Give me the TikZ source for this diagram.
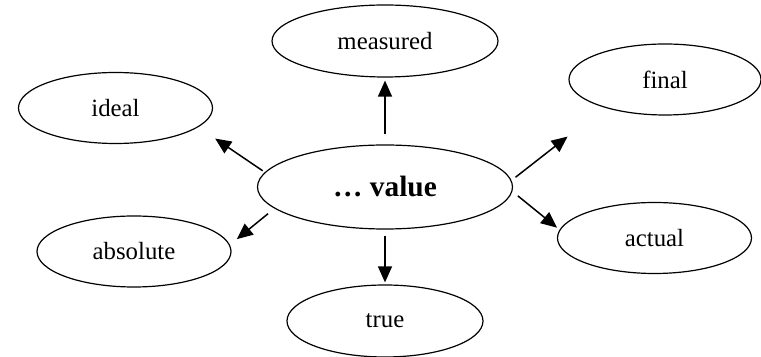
\documentclass[tikz,border=0pt]{standalone}
\usepackage{fontspec}
\setmainfont{Liberation Serif}
\usetikzlibrary{arrows.meta,shapes.geometric}

\begin{document}
\begin{tikzpicture}[
  x=0.5pt, y=-0.5pt,
  every node/.style={font=\fontsize{12.4}{15}\selectfont},
  wordbox/.style={draw, ellipse, line width=0.6pt, inner sep=0pt,
    minimum width=97pt, minimum height=35.5pt},
  flow/.style={-{Triangle[length=8pt,width=7pt]}, line width=0.75pt},
]
\useasboundingbox (0,0) rectangle (761,357);

\node[draw, ellipse, line width=0.6pt, inner sep=0pt, minimum width=127.5pt,
  minimum height=42pt, font=\fontsize{14.7}{17}\selectfont\bfseries] (value) at (385,187) {… value};
\node[wordbox, minimum width=113pt, minimum height=36pt] (measured) at (385,41) {measured};
\node[wordbox] (ideal)    at (115.5,108) {ideal};
\node[wordbox, minimum width=96pt] (final) at (665,79.5) {final};
\node[wordbox] (absolute) at (134,251.5) {absolute};
\node[wordbox, minimum width=98pt, minimum height=36pt] (true) at (385,321) {true};
\node[wordbox] (actual)   at (654.5,238) {actual};

\draw[flow, shorten <=5pt, shorten >=1.5pt] (value.north) -- (measured.south);
\draw[flow, shorten <=1.3pt, shorten >=10.2pt] (value.173.6) -- (ideal.-13.7);
\draw[flow, shorten <=2.5pt, shorten >=23.5pt] (value.3.1) -- (final.-155);
\draw[flow, shorten <=4.1pt, shorten >=4.45pt] (value.191.5) -- (absolute.4.2);
\draw[flow, shorten <=3pt, shorten >=1pt] (value.south) -- (true.north);
\draw[flow, shorten <=3.5pt, shorten >=1.6pt] (value.-2.6) -- (actual.175.2);
\end{tikzpicture}
\end{document}
